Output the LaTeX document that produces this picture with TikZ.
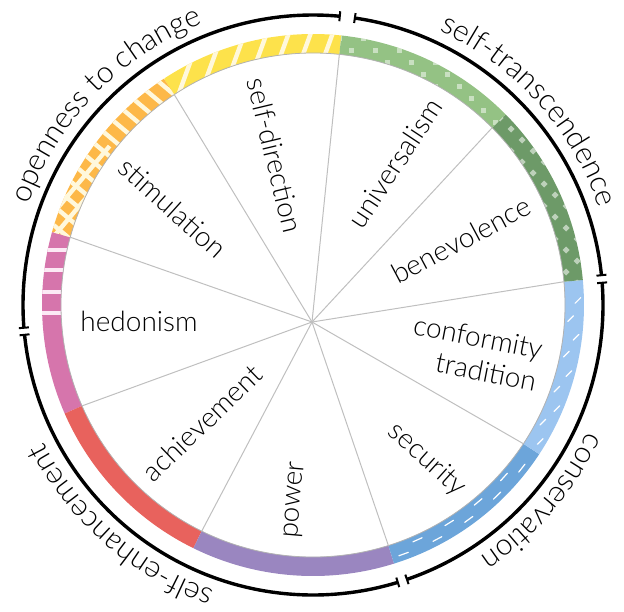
\documentclass[tikz,border=0pt]{standalone}
\usepackage{fontspec}
\IfFontExistsTF{Lato Light}{\setmainfont{Lato Light}}{\setmainfont{Lato}}
\usetikzlibrary{decorations.text}

\definecolor{selfdir}{HTML}{FDE24B}
\definecolor{stimul}{HTML}{FDB848}
\definecolor{hedon}{HTML}{D675AC}
\definecolor{achiev}{HTML}{E8625D}
\definecolor{powr}{HTML}{9A86C0}
\definecolor{secur}{HTML}{6CA5DA}
\definecolor{conform}{HTML}{9CC5F0}
\definecolor{benev}{HTML}{6D9A68}
\definecolor{univ}{HTML}{94C284}
\definecolor{cream}{HTML}{FFF8DC}
\definecolor{pinkwhite}{HTML}{FCEAF5}

\newcommand{\labelfont}{\fontsize{14}{16.5}\selectfont}
\newcommand{\groupfont}{\fontsize{15}{18}\selectfont}

\tikzset{
  valuelabel/.style={font=\labelfont, inner sep=0pt, align=center},
  spoke/.style={draw=black!25, line width=0.5pt},
  stripe/.style={draw=cream, line width=2.2pt},
  bluedash/.style={draw=white, line width=0.6pt, line cap=round},
  grouparc/.style={line width=1.7pt},
  grouptick/.style={line width=1pt},
  grouplabel/.style={decorate, decoration={text along path, text align=center, text={|\groupfont|#1}}},
}

\begin{document}
\begin{tikzpicture}[x=0.5pt,y=0.5pt]
  \useasboundingbox (-313,-306) rectangle (311,305);

  % coloured ring
  \foreach \a/\b/\c in {84/123.4/selfdir, 123.4/164.4/stimul, 164.4/203.6/hedon,
      203.6/243.8/achiev, 243.8/287.4/powr, 287.4/326.6/secur,
      326.6/365.3/conform, 365.3/404.7/benev, 404.7/444/univ}
    \fill[\c] (\a:271) arc[start angle=\a, end angle=\b, radius=271]
      -- (\b:252) arc[start angle=\b, end angle=\a, radius=252] -- cycle;

  % self-direction
  \begin{scope}
    \clip (84:271) arc[start angle=84, end angle=123.4, radius=271]
      -- (123.4:252) arc[start angle=123.4, end angle=84, radius=252] -- cycle;
    \foreach \x in {-230,-208,...,60}
      \draw[stripe] (\x,190) -- ++(70:100);
  \end{scope}

  % stimulation
  \begin{scope}
    \clip (123.4:271) arc[start angle=123.4, end angle=164.4, radius=271]
      -- (164.4:252) arc[start angle=164.4, end angle=123.4, radius=252] -- cycle;
    \foreach \x in {-520,-497,...,-100}
      \draw[stripe] (\x,260) -- ++(-40:400);
  \end{scope}
  \begin{scope}
    \clip (142:271) arc[start angle=142, end angle=164.4, radius=271]
      -- (164.4:252) arc[start angle=164.4, end angle=142, radius=252] -- cycle;
    \foreach \x in {-480,-460,...,-100}
      \draw[stripe] (\x,20) -- ++(50:300);
  \end{scope}

  % hedonism
  \begin{scope}
    \clip (164.4:271) arc[start angle=164.4, end angle=203.6, radius=271]
      -- (203.6:252) arc[start angle=203.6, end angle=164.4, radius=252] -- cycle;
    \foreach \y in {55,35,13,-8}
      \draw[draw=pinkwhite, line width=1.8pt] (-290,\y) -- (-220,\y);
  \end{scope}

  % universalism and benevolence
  \begin{scope}
    \clip (44.7:271) arc[start angle=44.7, end angle=84, radius=271]
      -- (84:252) arc[start angle=84, end angle=44.7, radius=252] -- cycle;
    \foreach \x in {0,24,...,300}
      \foreach \y in {0,24,...,290} {
        \fill[white, opacity=0.5] (\x,\y) rectangle ++(5,5);
        \fill[white, opacity=0.5] (\x+12,\y+12) rectangle ++(5,5);
      }
  \end{scope}
  \begin{scope}
    \clip (5.3:271) arc[start angle=5.3, end angle=44.7, radius=271]
      -- (44.7:252) arc[start angle=44.7, end angle=5.3, radius=252] -- cycle;
    \foreach \x in {0,22,...,300}
      \foreach \y in {0,22,...,290} {
        \fill[white, opacity=0.55] (\x,\y) +(0,3.5) -- +(3.5,0) -- +(0,-3.5) -- +(-3.5,0) -- cycle;
        \fill[white, opacity=0.55] (\x+11,\y+11) +(0,3.5) -- +(3.5,0) -- +(0,-3.5) -- +(-3.5,0) -- cycle;
      }
  \end{scope}

  % conformity and security
  \foreach \a [count=\n] in {-31,-27,...,3} {
    \pgfmathsetmacro{\r}{258+7*mod(\n,2)}
    \draw[bluedash] (\a:\r) ++(45:-4) -- ++(45:8);
  }
  \foreach \a [count=\n] in {-70,-66,...,-36} {
    \pgfmathsetmacro{\r}{257+8*mod(\n,2)}
    \draw[bluedash] (\a:\r) ++({\a+90}:-5) -- ++({\a+90}:10);
  }

  \draw[black!30, line width=0.4pt] (0,0) circle[radius=252];

  % spokes
  \coordinate (hub) at (-1,-17);
  \foreach \a [count=\i] in {84,123.4,164.4,203.6,243.8,287.4,326.6,365.3,404.7}
    \coordinate (b\i) at (\a:252);
  \foreach \i in {1,...,9}
    \draw[spoke] (hub) -- (b\i);

  % values
  \node[valuelabel, rotate=-76.5] (selfdirection) at (-38,150) {self-direction};
  \node[valuelabel, rotate=-42] (stimulation) at (-140,97) {stimulation};
  \node[valuelabel] (hedonism) at (-174,-16) {hedonism};
  \node[valuelabel, rotate=44] (achievement) at (-111,-118) {achievement};
  \node[valuelabel, rotate=85] (power) at (-17,-195) {power};
  \node[valuelabel, rotate=-42] (security) at (114,-155) {security};
  \node[valuelabel, align=right, rotate=-11] (conformity) at (162,-48) {conformity\\tradition};
  \node[valuelabel, rotate=28] (benevolence) at (148,65) {benevolence};
  \node[valuelabel, rotate=56.5] (universalism) at (82,142) {universalism};

  % higher order groups
  \foreach \s/\e in {84.7/184.5, 185.9/287, 288.9/364.4, 365.9/441.7} {
    \draw[grouparc] (\s:290) arc[start angle=\s, end angle=\e, radius=290];
    \draw[grouptick] (\s:285) -- (\s:295);
    \draw[grouptick] (\e:285) -- (\e:295);
  }
  \path[grouplabel={openness to change}] (186:302) arc[start angle=186, end angle=86, radius=302];
  \path[grouplabel={self-transcendence}] (92:302) arc[start angle=92, end angle=-8, radius=302];
  \path[grouplabel={conservation}] (9.4:302) arc[start angle=9.4, end angle=-90.6, radius=302];
  \path[grouplabel={self-enhancement}] (279:302) arc[start angle=279, end angle=179, radius=302];
\end{tikzpicture}
\end{document}
